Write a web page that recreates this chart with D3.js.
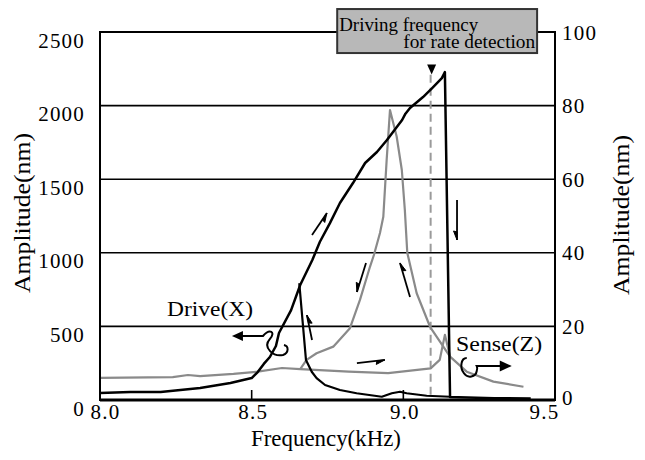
<!DOCTYPE html>
<html><head><meta charset="utf-8">
<script src="https://cdn.jsdelivr.net/npm/d3@7"></script>
<style>
body{margin:0;background:#fff}
svg{display:block}
text{font-family:"Liberation Serif","Times New Roman",Times,serif;fill:#000}
</style>
</head><body>
<svg id="c" width="645" height="460"></svg>
<script>
// ---- data ----
const freqTicks = [8.0, 8.5, 9.0, 9.5];
const leftTicks = [0, 500, 1000, 1500, 2000, 2500];
const rightTicks = [0, 20, 40, 60, 80, 100];

// Drive(X), upward sweep (nm) incl. jump down
const driveUpFreq = [8.00, 8.10, 8.20, 8.33, 8.43, 8.50, 8.52, 8.54, 8.56, 8.58, 8.59, 8.63, 8.66, 8.70, 8.725, 8.758, 8.791, 8.834, 8.874, 8.913, 8.946, 8.996, 9.007, 9.022, 9.065, 9.095, 9.127, 9.137, 9.154, 9.30, 9.42];
const driveUpNm   = [48, 54, 54, 82, 115, 149, 190, 245, 292, 367, 455, 611, 781, 951, 1075, 1202, 1338, 1474, 1610, 1685, 1766, 1902, 1945, 1984, 2058, 2119, 2187, 2228, 20, 12, 10];
// Drive(X), downward sweep (nm)
const driveDownFreq = [8.657, 8.679, 8.698, 8.714, 8.742, 8.791, 8.846, 8.929, 8.962, 8.989, 9.011, 9.077, 9.154];
const driveDownNm   = [793, 272, 192, 149, 102, 68, 46, 22, 46, 56, 46, 29, 22];

// Sense(Z), upward sweep (nm, right axis)
const senseUpFreq = [8.00, 8.24, 8.29, 8.33, 8.44, 8.52, 8.60, 8.66, 8.82, 8.95, 9.09, 9.12, 9.137, 9.154];
const senseUpVal  = [6.0, 6.2, 6.8, 6.5, 7.1, 7.7, 8.7, 8.4, 7.7, 7.3, 8.6, 10.9, 17.7, 11.8];
// Sense(Z), downward sweep
const senseDownFreq = [8.66, 8.681, 8.714, 8.769, 8.824, 8.857, 8.890, 8.903, 8.923, 8.934, 8.945, 8.956, 8.978, 8.995, 9.005, 9.013, 9.044, 9.088, 9.154, 9.209, 9.297, 9.396];
const senseDownVal  = [8.4, 10.9, 12.7, 14.5, 19.5, 27.2, 36.2, 39.4, 45.4, 49.8, 65.2, 78.8, 71.6, 62.5, 51.6, 40.0, 29.0, 19.9, 11.8, 7.7, 5.0, 3.6];

const rateFreq = 9.09;
// sweep-direction arrows: [fromFreq, fromNm, toFreq, toNm]
const sweepArrows = [
  [8.699, 1121, 8.748, 1270],
  [9.177, 1359, 9.177, 1087],
  [8.699, 408, 8.682, 577],
  [8.877, 931, 8.847, 734],
  [9.022, 700, 8.989, 931],
  [8.847, 251, 8.939, 272]
];

// ---- scales ----
const svg = d3.select("#c");
const x = d3.scaleLinear().domain([8, 9.5]).range([100, 555]);
const yL = d3.scaleLinear().domain([0, 2500]).range([400, 32]);
const yR = d3.scaleLinear().domain([0, 100]).range([400, 32]);
const FONT = '"Liberation Serif","Times New Roman",Times,serif';

// gridlines
svg.append("g").selectAll("line").data(leftTicks.filter(d => d > 0 && d < 2500)).join("line")
  .attr("x1", x(8)).attr("x2", x(9.5)).attr("y1", d => yL(d)).attr("y2", d => yL(d))
  .attr("stroke", "#000").attr("stroke-width", 1.6);

// inner x ticks
svg.append("g").selectAll("line").data(freqTicks.slice(1, -1)).join("line")
  .attr("x1", d => x(d)).attr("x2", d => x(d)).attr("y1", yL(0)).attr("y2", yL(0) - 10)
  .attr("stroke", "#000").attr("stroke-width", 1.6);

// dashed rate line
svg.append("line").attr("x1", x(rateFreq)).attr("x2", x(rateFreq))
  .attr("y1", yL(2210)).attr("y2", yL(0))
  .attr("stroke", "#9a9a9a").attr("stroke-width", 2).attr("stroke-dasharray", "8,5");

// curves
const lineL = d3.line().x(d => x(d[0])).y(d => yL(d[1]));
const lineR = d3.line().x(d => x(d[0])).y(d => yR(d[1]));
const zip = (a, b) => a.map((v, i) => [v, b[i]]);
svg.append("path").attr("d", lineR(zip(senseUpFreq, senseUpVal)))
  .attr("fill", "none").attr("stroke", "#8a8a8a").attr("stroke-width", 2.2).attr("stroke-linejoin", "round");
svg.append("path").attr("d", lineR(zip(senseDownFreq, senseDownVal)))
  .attr("fill", "none").attr("stroke", "#8a8a8a").attr("stroke-width", 2.2).attr("stroke-linejoin", "round");
svg.append("path").attr("d", lineL(zip(driveUpFreq, driveUpNm)))
  .attr("fill", "none").attr("stroke", "#000").attr("stroke-width", 2.5).attr("stroke-linejoin", "round");
svg.append("path").attr("d", lineL(zip(driveDownFreq, driveDownNm)))
  .attr("fill", "none").attr("stroke", "#000").attr("stroke-width", 2.2).attr("stroke-linejoin", "round");

// frame
svg.append("rect").attr("x", x(8)).attr("y", yL(2500)).attr("width", x(9.5) - x(8)).attr("height", yL(0) - yL(2500))
  .attr("fill", "none").attr("stroke", "#000").attr("stroke-width", 2);
svg.append("line").attr("x1", x(8)).attr("x2", x(9.5)).attr("y1", yL(0)).attr("y2", yL(0))
  .attr("stroke", "#000").attr("stroke-width", 3);

// sweep arrows (harpoon style)
sweepArrows.forEach(a => {
  const x1 = x(a[0]), y1 = yL(a[1]), x2 = x(a[2]), y2 = yL(a[3]);
  const len = Math.hypot(x2 - x1, y2 - y1), ux = (x2 - x1) / len, uy = (y2 - y1) / len;
  const nx = -uy, ny = ux;
  svg.append("line").attr("x1", x1).attr("y1", y1).attr("x2", x2).attr("y2", y2)
    .attr("stroke", "#000").attr("stroke-width", 1.8);
  svg.append("path").attr("d", `M${x2},${y2}L${x2 - 9 * ux + 3.5 * nx},${y2 - 9 * uy + 3.5 * ny}L${x2 - 8 * ux},${y2 - 8 * uy}Z`)
    .attr("fill", "#000").attr("stroke", "#000").attr("stroke-width", 1);
});

// Drive(X) pointer
const dax = x(8.435), day = yL(435);
svg.append("path").attr("d", `M${dax + 8},${day}L${dax + 31},${day} C${dax + 38},${day - 8} ${dax + 44},${day - 4} ${dax + 38},${day + 3} C${dax + 30},${day + 12} ${dax + 42},${day + 21} ${dax + 51},${day + 19} C${dax + 57},${day + 17} ${dax + 57},${day + 10} ${dax + 52},${day + 9}`)
  .attr("fill", "none").attr("stroke", "#000").attr("stroke-width", 2);
svg.append("path").attr("d", `M${dax},${day}L${dax + 11},${day - 5}L${dax + 11},${day + 5}Z`).attr("fill", "#000");
svg.append("text").attr("x", x(8.221)).attr("y", yL(571)).attr("font-size", 21)
  .attr("textLength", 86).attr("lengthAdjust", "spacingAndGlyphs").text("Drive(X)");

// Sense(Z) pointer
const sax = x(9.242), say = yR(9.24);
svg.append("path").attr("d", `M${sax - 10},${say - 8} C${sax - 16},${say - 8} ${sax - 17},${say + 2} ${sax - 13},${say + 7} C${sax - 9},${say + 13} ${sax - 1},${say + 11} ${sax},${say + 5} C${sax + 1},${say + 2} ${sax},${say} ${sax},${say} L${sax + 25},${say}`)
  .attr("fill", "none").attr("stroke", "#000").attr("stroke-width", 2);
svg.append("path").attr("d", `M${sax + 35},${say}L${sax + 23},${say - 5.5}L${sax + 23},${say + 5.5}Z`).attr("fill", "#000");
svg.append("text").attr("x", x(9.174)).attr("y", yR(13.3)).attr("font-size", 21)
  .attr("textLength", 86).attr("lengthAdjust", "spacingAndGlyphs").text("Sense(Z)");

// annotation box
const bx1 = x(8.782), bx2 = x(9.441), by1 = yL(2656), by2 = yL(2357);
svg.append("rect").attr("x", bx1).attr("y", by1).attr("width", bx2 - bx1).attr("height", by2 - by1)
  .attr("fill", "#b8b8b8").attr("stroke", "#333").attr("stroke-width", 2);
svg.append("text").attr("x", bx1 + 2).attr("y", by1 + 22).attr("font-size", 18).attr("textLength", 139).attr("lengthAdjust", "spacingAndGlyphs").text("Driving frequency");
svg.append("text").attr("x", bx1 + 66).attr("y", by1 + 39).attr("font-size", 18).attr("textLength", 132).attr("lengthAdjust", "spacingAndGlyphs").text("for rate detection");
// triangle marker
const tx = x(rateFreq) + 1, ty = yL(2280);
svg.append("path").attr("d", `M${tx - 4.5},${ty}L${tx + 4.5},${ty}L${tx},${ty + 10}Z`).attr("fill", "#000");

// ---- axes ----
const gl = svg.append("g").attr("transform", `translate(${x(8)},0)`)
  .call(d3.axisLeft(yL).tickValues(leftTicks).tickSize(0).tickFormat(d3.format("d")));
gl.attr("font-family", null);
gl.select(".domain").remove();
gl.selectAll("text").attr("x", -15).attr("dy", 15).attr("font-size", 21).attr("letter-spacing", 1.2)
  .style("font-family", FONT);

const gr = svg.append("g").attr("transform", `translate(${x(9.5)},0)`)
  .call(d3.axisRight(yR).tickValues(rightTicks).tickSize(0).tickFormat(d3.format("d")));
gr.attr("font-family", null);
gr.select(".domain").remove();
gr.selectAll("text").attr("x", d => d === 0 ? 7 : 7).attr("dy", d => d === 0 ? 4 : 7).attr("font-size", 21).attr("letter-spacing", 1.2)
  .style("font-family", FONT);

const gb = svg.append("g").attr("transform", `translate(0,${yL(0)})`)
  .call(d3.axisBottom(x).tickValues(freqTicks).tickSize(0).tickFormat(d3.format(".1f")));
gb.attr("font-family", null);
gb.select(".domain").remove();
gb.selectAll("text").attr("y", 19).attr("dy", 0).attr("font-size", 21).attr("letter-spacing", 1.2)
  .attr("dx", d => d === 8 ? 5 : (d === 9.5 ? -11 : 1))
  .style("font-family", FONT);

// axis titles
svg.append("text").attr("x", 326).attr("y", 446).attr("text-anchor", "middle").attr("font-size", 23)
  .attr("textLength", 150).attr("lengthAdjust", "spacingAndGlyphs").text("Frequency(kHz)");
svg.append("text").attr("transform", "translate(30,213) rotate(-90)").attr("text-anchor", "middle").attr("font-size", 23)
  .attr("textLength", 160).attr("lengthAdjust", "spacingAndGlyphs").text("Amplitude(nm)");
svg.append("text").attr("transform", "translate(629,215) rotate(-90)").attr("text-anchor", "middle").attr("font-size", 23)
  .attr("textLength", 160).attr("lengthAdjust", "spacingAndGlyphs").text("Amplitude(nm)");
</script>
</body></html>
